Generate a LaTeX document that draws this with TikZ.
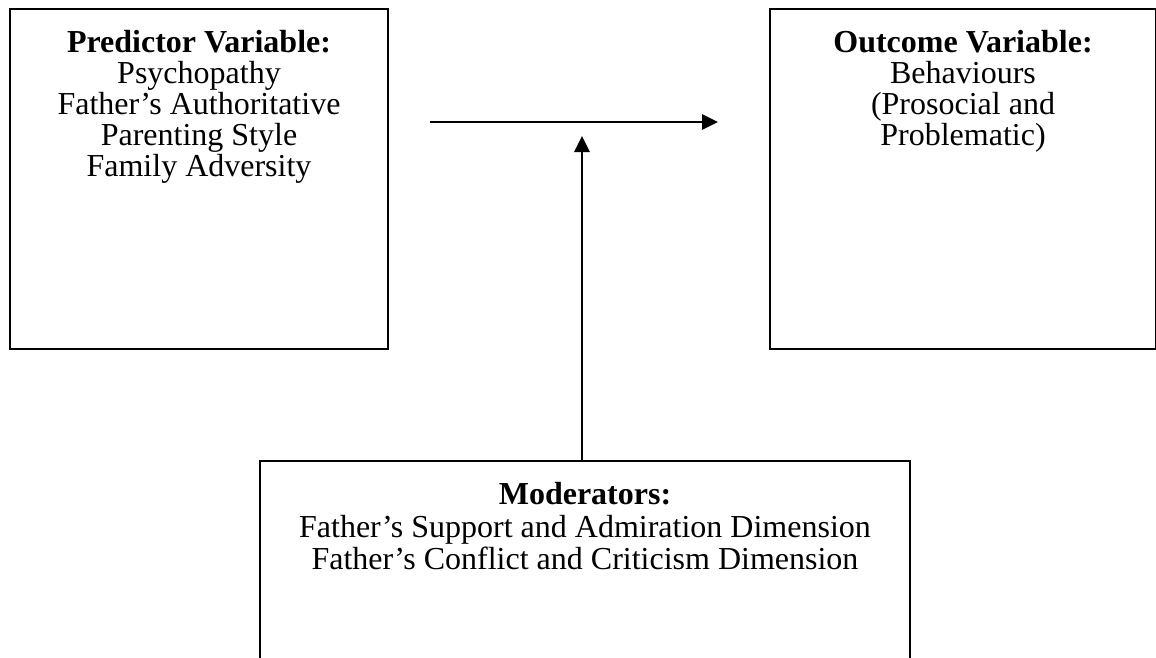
\documentclass[tikz,border=0pt]{standalone}
\usepackage{fontspec}
\setmainfont{Liberation Serif}
\usetikzlibrary{arrows.meta,positioning}

\tikzset{
  varbox/.style={draw, line width=1.5pt, inner sep=0pt, anchor=north west},
  vartext/.style={align=center, inner sep=0pt, font=\fontsize{24}{23.25}\selectfont},
  link/.style={-{Triangle[length=12pt, width=11.5pt]}, line width=1.7pt}
}

\begin{document}
\begin{tikzpicture}[x=0.75pt, y=-0.75pt]
  % page size of the reference
  \useasboundingbox (0,0) rectangle (1156,657);

  % the three boxes
  \node[varbox, minimum width=283.5pt, minimum height=255pt] (pred) at (9,8) {};
  \node[varbox, minimum width=289.5pt, minimum height=255pt] (outc) at (769,8) {};
  \node[varbox, minimum width=487.5pt, minimum height=187.5pt] (mod) at (259,460) {};

  % texts, hung from the top of each box
  \node[vartext, below=16.5pt of pred.north] (predtxt) {\textbf{Predictor Variable:}\\
    Psychopathy\\ Father's Authoritative\\ Parenting Style\\ Family Adversity};
  \node[vartext, below=16.5pt of outc.north] (outctxt) {\textbf{Outcome Variable:}\\
    Behaviours\\ (Prosocial and\\ Problematic)};
  \node[vartext, font=\fontsize{24}{24.4}\selectfont, below=16.5pt of mod.north] (modtxt) {\textbf{Moderators:}\\
    Father's Support and Admiration Dimension\\ Father's Conflict and Criticism Dimension};

  % arrows
  \coordinate (hstart) at (430,122);
  \coordinate (hend) at (718,122);
  \coordinate (vtip) at (582,136);
  \draw[link] (hstart) -- (hend);
  \draw[link] (mod.north -| vtip) -- (vtip);
\end{tikzpicture}
\end{document}
